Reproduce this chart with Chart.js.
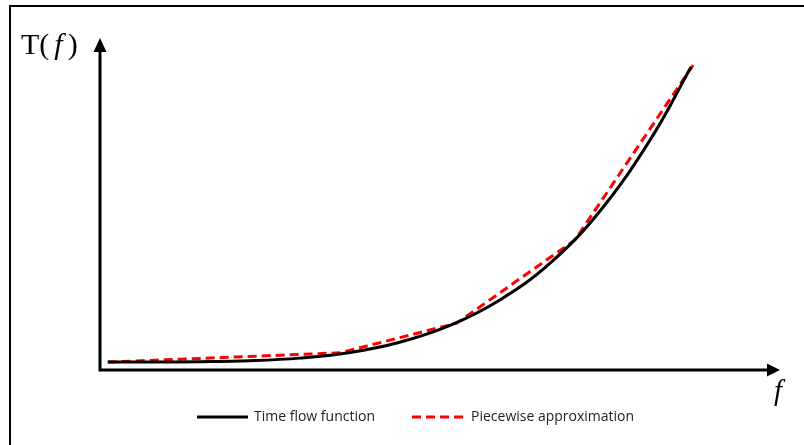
<!DOCTYPE html>
<html>
<head>
<meta charset="utf-8">
<script src="https://cdn.jsdelivr.net/npm/chart.js@4.4.0/dist/chart.umd.min.js"></script>
<style>
  html, body { margin: 0; padding: 0; background: #fff; }
  #wrap { width: 804px; height: 445px; position: relative; }
</style>
</head>
<body>
<div id="wrap"><canvas id="timeChart" width="804" height="445"></canvas></div>
<script>
// Time flow function T(f), sampled along the curve
const flowF = [0.1, 0.72, 1.46, 2.19, 2.93, 3.67, 4.4, 5.14, 5.88, 6.61, 7.35, 8.09, 8.69];
const flowT = [0.24, 0.24, 0.25, 0.28, 0.36, 0.53, 0.84, 1.35, 2.13, 3.23, 4.82, 6.98, 9.18];

// Breakpoints of the piecewise linear approximation
const pieceF = [0.1, 3.52, 5.24, 6.98, 8.72];
const pieceT = [0.24, 0.52, 1.42, 3.94, 9.24];

const seriesNames = ['Time flow function', 'Piecewise approximation'];
const axisLabels = { y: 'T(', yItalic: 'f', yClose: ')', x: 'f' };

function toPoints(xs, ys) {
    return xs.map((x, i) => ({ x: x, y: ys[i] }));
}

// Frame, axes with arrow heads, axis labels and the legend
const decorations = {
    id: 'decorations',
    afterDraw(chart) {
        const ctx = chart.ctx;
        const area = chart.chartArea;
        const left = area.left - 1, bottom = area.bottom;
        ctx.save();

        // outer frame (top and left edges)
        ctx.fillStyle = '#000';
        ctx.fillRect(9, 5, 795, 2);
        ctx.fillRect(9, 5, 2, 440);

        // axes
        ctx.strokeStyle = '#000';
        ctx.lineWidth = 3;
        ctx.beginPath();
        ctx.moveTo(left, bottom + 1.5);
        ctx.lineTo(left, area.top + 10);
        ctx.moveTo(left - 1.5, bottom);
        ctx.lineTo(area.right - 10, bottom);
        ctx.stroke();

        // arrow heads
        ctx.beginPath();
        ctx.moveTo(left, area.top - 2);
        ctx.lineTo(left - 6.5, area.top + 12);
        ctx.lineTo(left + 6.5, area.top + 12);
        ctx.closePath();
        ctx.moveTo(area.right, bottom);
        ctx.lineTo(area.right - 13, bottom - 6.5);
        ctx.lineTo(area.right - 13, bottom + 6.5);
        ctx.closePath();
        ctx.fill();

        // axis labels
        ctx.textBaseline = 'alphabetic';
        ctx.font = '30px "Liberation Serif"';
        let x = 21;
        ctx.fillText(axisLabels.y, x, 54);
        x += ctx.measureText(axisLabels.y).width + 5;
        ctx.font = 'italic 30px "Liberation Serif"';
        ctx.fillText(axisLabels.yItalic, x, 54);
        x += ctx.measureText(axisLabels.yItalic).width + 5;
        ctx.font = '30px "Liberation Serif"';
        ctx.fillText(axisLabels.yClose, x, 54);

        ctx.font = 'italic 29px "Liberation Serif"';
        ctx.fillText(axisLabels.x, 774, 400);

        // legend
        const ds = chart.data.datasets;
        const legendY = 417;
        const items = [{ x0: 197, x1: 248, tx: 254 }, { x0: 412, x1: 466, tx: 471 }];
        ctx.font = '14px "Open Sans"';
        ctx.textBaseline = 'middle';
        items.forEach((it, i) => {
            ctx.strokeStyle = ds[i].borderColor;
            ctx.lineWidth = 3;
            ctx.setLineDash(ds[i].borderDash || []);
            ctx.beginPath();
            ctx.moveTo(it.x0, legendY);
            ctx.lineTo(it.x1, legendY);
            ctx.stroke();
            ctx.setLineDash([]);
            ctx.fillStyle = '#222';
            ctx.fillText(ds[i].label, it.tx, legendY);
        });
        ctx.restore();
    }
};

new Chart(document.getElementById('timeChart'), {
    type: 'line',
    data: {
        datasets: [
            {
                label: seriesNames[0],
                data: toPoints(flowF, flowT),
                borderColor: '#000000',
                borderWidth: 3,
                tension: 0.4,
                pointRadius: 0,
                fill: false
            },
            {
                label: seriesNames[1],
                data: toPoints(pieceF, pieceT),
                borderColor: '#ff0000',
                borderWidth: 3,
                borderDash: [9, 5],
                tension: 0,
                pointRadius: 0,
                fill: false
            }
        ]
    },
    options: {
        responsive: false,
        animation: false,
        layout: { padding: { left: 101, right: 24, top: 40, bottom: 75 } },
        plugins: { legend: { display: false }, tooltip: { enabled: false } },
        scales: {
            x: { type: 'linear', min: 0, max: 10, display: false },
            y: { type: 'linear', min: 0, max: 10, display: false }
        }
    },
    plugins: [decorations]
});
</script>
</body>
</html>
